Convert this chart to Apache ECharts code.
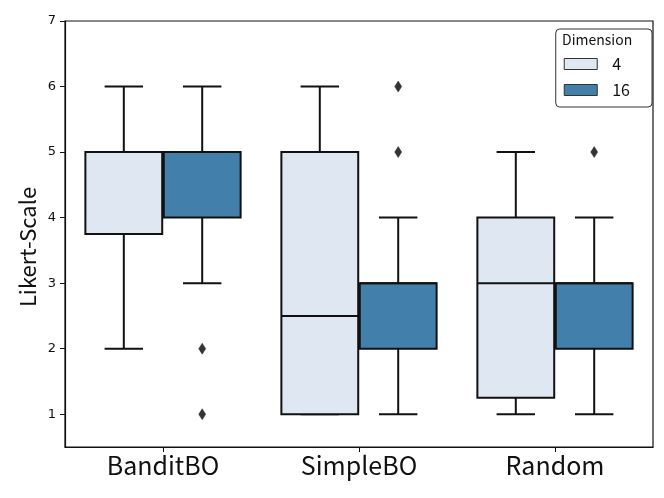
<!DOCTYPE html>
<html>
<head>
<meta charset="utf-8">
<script src="https://cdn.jsdelivr.net/npm/echarts@6/dist/echarts.min.js"></script>
<style>
  html, body { margin: 0; padding: 0; background: #fff; }
  #main { width: 664px; height: 498px; }
</style>
</head>
<body>
<div id="main"></div>
<script>
// 类别和数据
var categories = ['BanditBO', 'SimpleBO', 'Random'];
var hueNames = ['4', '16'];
// [min, q1, median, q3, max]
var dim4 = [[2, 3.75, 5, 5, 6], [1, 1, 2.5, 5, 6], [1, 1.25, 3, 4, 5]];
var dim16 = [[3, 4, 5, 5, 6], [1, 2, 3, 3, 4], [1, 2, 3, 3, 4]];
// [category index, value]
var outliers4 = [];
var outliers16 = [[0, 2], [0, 1], [1, 5], [1, 6], [2, 5]];
var yTicks = [1, 2, 3, 4, 5, 6, 7];

var colors = ['#dfe8f2', '#4280ab'];
var font = '"Noto Sans CJK JP", "Noto Sans", sans-serif';

function boxItem(off) {
    return function (params, api) {
        var ci = api.value(0);
        var band = api.size([1, 0])[0];
        var w = band * 0.4 * 0.98;
        var cx = api.coord([ci, 0])[0] + off * band;
        var yMin = api.coord([ci, api.value(1)])[1];
        var yQ1 = api.coord([ci, api.value(2)])[1];
        var yMed = api.coord([ci, api.value(3)])[1];
        var yQ3 = api.coord([ci, api.value(4)])[1];
        var yMax = api.coord([ci, api.value(5)])[1];
        var ln = {stroke: '#111', lineWidth: 2};
        var cap = w / 4;
        return {
            type: 'group',
            children: [
                {type: 'line', shape: {x1: cx, y1: yQ1, x2: cx, y2: yMin}, style: ln},
                {type: 'line', shape: {x1: cx, y1: yQ3, x2: cx, y2: yMax}, style: ln},
                {type: 'line', shape: {x1: cx - cap, y1: yMin, x2: cx + cap, y2: yMin}, style: ln},
                {type: 'line', shape: {x1: cx - cap, y1: yMax, x2: cx + cap, y2: yMax}, style: ln},
                {type: 'rect', shape: {x: cx - w / 2, y: yQ3, width: w, height: yQ1 - yQ3},
                    style: {fill: api.visual('color'), stroke: '#111', lineWidth: 2}},
                {type: 'line', shape: {x1: cx - w / 2, y1: yMed, x2: cx + w / 2, y2: yMed}, style: ln}
            ]
        };
    };
}

function outlierItem(off) {
    return function (params, api) {
        var ci = api.value(0);
        var band = api.size([1, 0])[0];
        var p = api.coord([ci, api.value(1)]);
        var x = p[0] + off * band, y = p[1];
        return {
            type: 'polygon',
            shape: {points: [[x, y - 5.5], [x + 3.5, y], [x, y + 5.5], [x - 3.5, y]]},
            style: {fill: '#333', stroke: '#333', lineWidth: 0.5}
        };
    };
}

function toRows(arr) {
    return arr.map(function (d, i) { return [i].concat(d); });
}

var chart = echarts.init(document.getElementById('main'), null, {renderer: 'canvas'});
var option = {
    animation: false,
    backgroundColor: '#fff',
    grid: {left: 65, right: 11, top: 21, bottom: 51, show: true, borderColor: '#111', borderWidth: 1.2, backgroundColor: 'transparent'},
    legend: {
        right: 12, top: 29,
        orient: 'vertical',
        data: hueNames,
        icon: 'rect',
        itemWidth: 33, itemHeight: 11, itemGap: 8,
        padding: [26, 22, 8, 8],
        backgroundColor: '#fff',
        borderColor: '#333', borderWidth: 1, borderRadius: 4,
        textStyle: {fontFamily: font, fontSize: 16, color: '#111', lineHeight: 18, padding: [0, 0, 0, 10]},
        itemStyle: {borderColor: '#333', borderWidth: 1}
    },
    graphic: [{
        type: 'text', left: 562, top: 33, z: 100,
        style: {text: 'Dimension', font: '14px ' + font, fill: '#111'}
    }, {
        type: 'text', x: 28, y: 247, rotation: Math.PI / 2, z: 100,
        style: {text: 'Likert-Scale', font: '22px ' + font, fill: '#111', align: 'center', verticalAlign: 'middle'}
    }],
    xAxis: {
        type: 'category',
        data: categories,
        boundaryGap: true,
        axisLine: {show: true, lineStyle: {color: '#111', width: 1.2}},
        axisTick: {show: true, alignWithLabel: true, length: 5, lineStyle: {color: '#111'}},
        axisLabel: {fontFamily: font, fontSize: 25, color: '#111', margin: 6},
        splitLine: {show: false}
    },
    yAxis: {
        type: 'value',
        min: 0.5, max: 7,
        axisLine: {show: true, lineStyle: {color: '#111', width: 1.2}},
        axisTick: {show: true, length: 5, customValues: yTicks, lineStyle: {color: '#111'}},
        axisLabel: {fontFamily: '"DejaVu Sans", sans-serif', fontSize: 13, color: '#111', margin: 9, customValues: yTicks},
        splitLine: {show: false}
    },
    series: [
        {
            name: hueNames[0], type: 'custom', renderItem: boxItem(-0.2),
            itemStyle: {color: colors[0]},
            encode: {x: 0, y: [1, 2, 3, 4, 5]},
            data: toRows(dim4), z: 3
        },
        {
            name: hueNames[1], type: 'custom', renderItem: boxItem(0.2),
            itemStyle: {color: colors[1]},
            encode: {x: 0, y: [1, 2, 3, 4, 5]},
            data: toRows(dim16), z: 3
        },
        {
            name: 'out4', type: 'custom', renderItem: outlierItem(-0.2),
            encode: {x: 0, y: 1}, data: outliers4, z: 4
        },
        {
            name: 'out16', type: 'custom', renderItem: outlierItem(0.2),
            encode: {x: 0, y: 1}, data: outliers16, z: 4
        }
    ]
};
chart.setOption(option);
</script>
</body>
</html>
